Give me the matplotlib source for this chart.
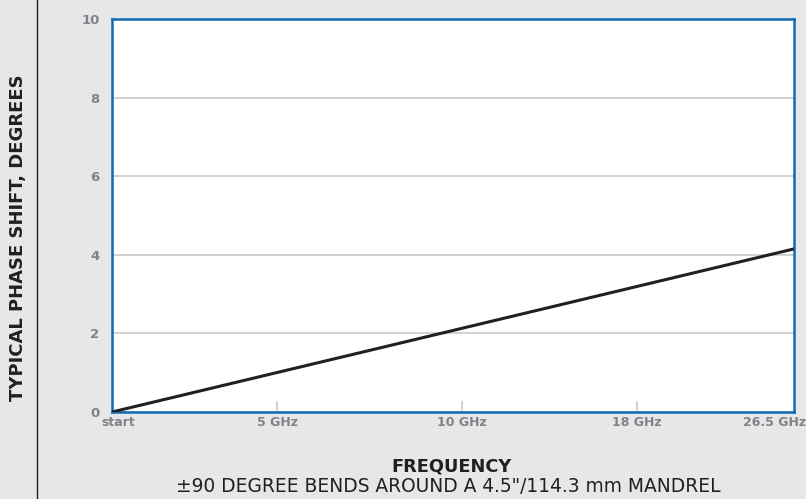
import numpy as np
import matplotlib.pyplot as plt
from matplotlib.transforms import ScaledTranslation
from matplotlib.lines import Line2D

# data (x as relative position along the frequency axis)
tick_pos = [0.0, 0.242, 0.513, 0.770, 1.0]
tick_labels = ['start', '5 GHz', '10 GHz', '18 GHz', '26.5 GHz']
freq_pos = [0.0, 1.0]
phase_shift = [0.0, 4.15]
y_ticks = [0, 2, 4, 6, 8, 10]

bg = '#e6e7e9'
gray = '#808285'
dark = '#231f20'
blue = '#0f6cb3'

fig = plt.figure(figsize=(8.06, 4.99), dpi=100, facecolor=bg)
ax = fig.add_axes([112/806, 1 - 412/499, (794 - 112)/806, (412 - 19)/499])
ax.set_facecolor('white')

ax.plot(freq_pos, phase_shift, color=dark, lw=2.2, solid_capstyle='butt', zorder=3)

ax.set_xlim(0, 1)
ax.set_ylim(0, 10)
ax.set_yticks(y_ticks)
ax.set_yticklabels([str(v) for v in y_ticks])
ax.yaxis.grid(True, color='#c8c9cb', lw=1.2)
ax.set_axisbelow(True)

for s in ax.spines.values():
    s.set_color(blue)
    s.set_linewidth(1.8)

ax.set_xticks(tick_pos)
ax.set_xticklabels(tick_labels)
ax.tick_params(axis='x', direction='in', length=8, width=1.2, color='#c8c9cb',
               pad=3, labelsize=9, labelcolor=gray)
ax.tick_params(axis='y', length=0, pad=9, labelsize=9.5, labelcolor=gray)
for lab in ax.get_xticklabels() + ax.get_yticklabels():
    lab.set_fontweight('bold')

xl = ax.get_xticklabels()
xl[0].set_transform(xl[0].get_transform() + ScaledTranslation(6/100, 0, fig.dpi_scale_trans))
xl[-1].set_horizontalalignment('right')
xl[-1].set_transform(xl[-1].get_transform() + ScaledTranslation(12/100, 0, fig.dpi_scale_trans))
# hide edge tick marks
ax.xaxis.get_major_ticks()[0].tick1line.set_visible(False)
ax.xaxis.get_major_ticks()[-1].tick1line.set_visible(False)

fig.text(452/806, 1 - 466/499, 'FREQUENCY', ha='center', va='center',
         fontsize=12.8, fontweight='bold', color=dark)
fig.text(448/806, 1 - 487/499, '±90 DEGREE BENDS AROUND A 4.5"/114.3 mm MANDREL',
         ha='center', va='center', fontsize=13.4, color=dark)
fig.text(18/806, 1 - 238/499, 'TYPICAL PHASE SHIFT, DEGREES', rotation=90,
         ha='center', va='center', fontsize=13, fontweight='bold', color=dark)

fig.add_artist(Line2D([37/806, 37/806], [0, 1], transform=fig.transFigure,
                      color=dark, lw=1))

fig.savefig('out.png', dpi=100, facecolor=bg)
